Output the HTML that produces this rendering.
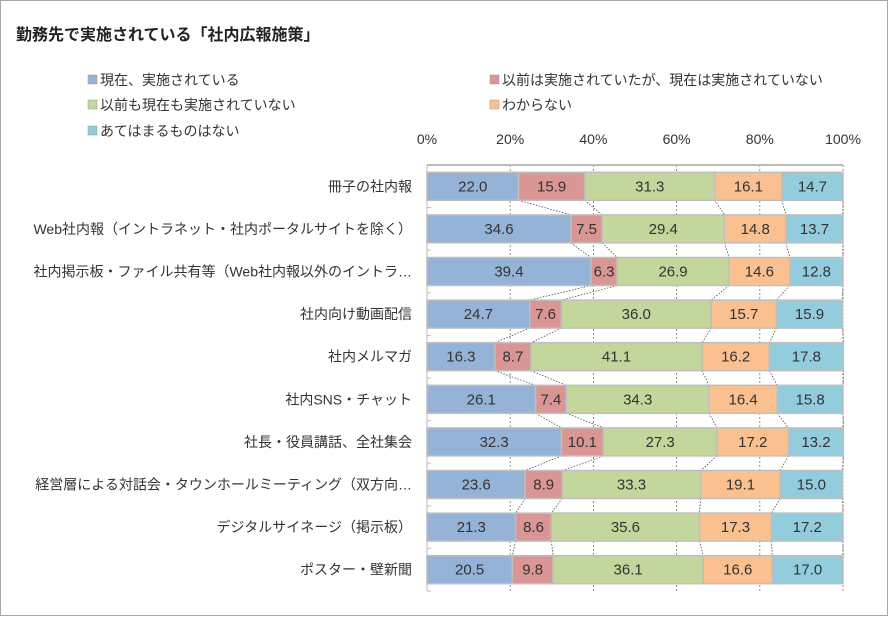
<!DOCTYPE html>
<html><head><meta charset="utf-8"><style>
body{margin:0;background:#fff;}
svg text{font-family:"Liberation Sans","Noto Sans CJK JP",sans-serif;}
</style></head><body>
<svg id="chart" width="888" height="616" xmlns="http://www.w3.org/2000/svg">
<rect x="0.5" y="0.5" width="887" height="615" fill="#fff" stroke="#a6a6a6"/>
<text x="16" y="40" font-size="16" font-weight="bold" fill="#222">勤務先で実施されている「社内広報施策」</text>
<g id="legend"></g>
<g id="grid"></g>
<g id="conn"></g>
<g id="bars"></g>
<g id="axis"></g>
</svg>
<script>
const categories=["冊子の社内報","Web社内報（イントラネット・社内ポータルサイトを除く）","社内掲示板・ファイル共有等（Web社内報以外のイントラ…","社内向け動画配信","社内メルマガ","社内SNS・チャット","社長・役員講話、全社集会","経営層による対話会・タウンホールミーティング（双方向…","デジタルサイネージ（掲示板）","ポスター・壁新聞"];
const seriesNames=["現在、実施されている","以前は実施されていたが、現在は実施されていない","以前も現在も実施されていない","わからない","あてはまるものはない"];
const s1=[22.0,34.6,39.4,24.7,16.3,26.1,32.3,23.6,21.3,20.5];
const s2=[15.9,7.5,6.3,7.6,8.7,7.4,10.1,8.9,8.6,9.8];
const s3=[31.3,29.4,26.9,36.0,41.1,34.3,27.3,33.3,35.6,36.1];
const s4=[16.1,14.8,14.6,15.7,16.2,16.4,17.2,19.1,17.3,16.6];
const s5=[14.7,13.7,12.8,15.9,17.8,15.8,13.2,15.0,17.2,17.0];
const ticks=[0,20,40,60,80,100];
const colors=["#95b3d7","#d99694","#c3d69b","#fac090","#93cddd"];
const series=[s1,s2,s3,s4,s5];
const NS="http://www.w3.org/2000/svg";
const X0=427,X1=843,Y0=165,Y1=591;
const band=(Y1-Y0)/categories.length, bh=28;
const xs=v=>X0+(X1-X0)*v/100;
const yc=i=>Y0+band*(i+0.5);
function mk(tag,attrs,parent){const e=document.createElementNS(NS,tag);for(const k in attrs)e.setAttribute(k,attrs[k]);document.getElementById(parent).appendChild(e);return e;}
const legPos=[[88,84],[490,84],[88,109],[490,109],[88,135]];
seriesNames.forEach((n,j)=>{
 const r=mk('rect',{x:legPos[j][0],y:legPos[j][1]-9,width:9,height:9,fill:colors[j],stroke:'#999','stroke-width':0.5},'legend');
 
 
 const t=mk('text',{x:legPos[j][0]+12,y:legPos[j][1]+1,'font-size':14,fill:'#333'},'legend');t.textContent=n;
 
 
});
ticks.forEach(t=>{
 if(t>0){const l=mk('line',{x1:xs(t),x2:xs(t),y1:Y0,y2:Y1,stroke:'#777','stroke-width':0.8,'stroke-dasharray':'2,2'},'grid');
 
 }
 const tx=mk('text',{x:xs(t),y:144,'font-size':14,fill:'#333','text-anchor':'middle'},'axis');tx.textContent=t+'%';
 
 
});
const topAxis=mk('line',{x1:X0,x2:X1,y1:Y0,y2:Y0,stroke:'#bbb','stroke-width':2},'axis');


const leftAxis=mk('line',{x1:X0,x2:X0,y1:Y0,y2:Y1,stroke:'#bbb','stroke-width':1},'axis');


for(let i=0;i<=categories.length;i++){const tk=mk('line',{x1:X0,x2:X0+4,y1:Y0+band*i,y2:Y0+band*i,stroke:'#bbb'},'axis');
 
 }
const cum=categories.map((_,i)=>{let c=[0];series.forEach(s=>c.push(c[c.length-1]+s[i]));return c;});
categories.forEach((c,i)=>{
 const lab=mk('text',{x:412,y:yc(i)+5,'font-size':14,fill:'#333','text-anchor':'end'},'axis');lab.textContent=c;
 
 
 series.forEach((s,j)=>{
  const a=xs(cum[i][j]),b=xs(cum[i][j+1]);
  const r=mk('rect',{x:a,y:yc(i)-bh/2,width:b-a,height:bh,fill:colors[j],stroke:'#bfbfbf','stroke-width':1.5},'bars');
  
  
  const t=mk('text',{x:(a+b)/2,y:yc(i)+5,'font-size':15,fill:'#333','text-anchor':'middle'},'bars');t.textContent=s[i].toFixed(1);
  
  
 });
 if(i<categories.length-1){
  for(let j=1;j<=5;j++){
   const l=mk('line',{x1:xs(cum[i][j]),y1:yc(i)+bh/2,x2:xs(cum[i+1][j]),y2:yc(i+1)-bh/2,stroke:'#333','stroke-width':0.7,'stroke-dasharray':'1.5,1.5'},'conn');
   
   
  }
 }
});
</script>
</body></html>
